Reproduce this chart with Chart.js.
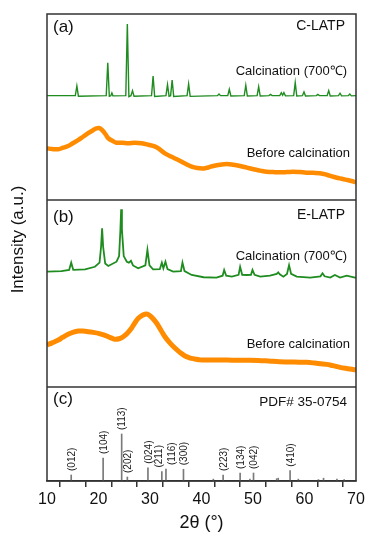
<!DOCTYPE html>
<html><head><meta charset="utf-8">
<script src="https://cdn.jsdelivr.net/npm/chart.js@4.4.0/dist/chart.umd.min.js"></script>
<style>html,body{margin:0;padding:0;background:#fff}</style>
</head><body>
<canvas id="c" width="389" height="541"></canvas>
<script>
// ---- Panel (a) C-LATP, calcined (700 C) ----
const aCalcX = [10,15.5,15.8,16.1,21.5,21.8,22.1,22.4,22.6,22.8,25.3,25.6,25.9,26.3,26.6,26.9,30.3,30.6,30.9,33.1,33.4,33.7,34.0,34.3,34.6,37.2,37.5,37.8,43.1,43.4,43.7,45.1,45.4,45.7,48.3,48.6,48.9,50.8,51.1,51.4,53.1,53.4,53.7,55.2,55.5,55.75,56.0,56.3,57.9,58.2,58.5,59.6,59.9,60.2,62.3,62.6,62.9,64.4,64.7,65.0,66.6,66.9,67.2,68.5,68.8,69.1,70];
const aCalcY = [56.1,56.1,61.3,55.8,56.1,73.8,55.8,56.1,57.5,56.0,56.1,94.6,55.6,56.1,58.8,55.8,56.1,66.7,55.7,56.1,62.0,55.8,56.1,64.5,55.7,56.1,62.4,55.7,56.1,57.0,56.1,56.1,59.5,55.9,56.1,61.7,55.9,56.1,60.9,55.9,56.1,56.8,56.1,56.1,57.7,56.3,57.7,56.0,56.1,63.1,55.9,56.1,58.1,55.9,56.1,56.8,56.1,56.1,58.8,55.9,56.1,57.4,56.0,56.1,57.0,56.0,56.1];
// ---- Panel (a) C-LATP, before calcination ----
const aRawX = [10,11,12.2,13,14.1,15,16.1,17,18,19,19.6,20.2,20.8,21.4,21.9,22.7,23.5,24.6,25.8,27,28.4,29.7,31,32,32.9,34.2,35.5,36.8,38.1,39.2,40.4,41.3,42.3,43.6,44.9,46.2,47.5,48.8,50.1,51.4,52.7,54,55.2,56.5,57.8,59.1,60.4,61.7,63,64.3,65.6,66.9,68.2,69.1,70];
const aRawY = [27.8,27.4,27.3,28.0,29.0,30.5,32.3,34.0,35.9,37.6,38.5,38.6,37.3,35.2,33.2,31.8,30.8,30.8,30.5,30.8,30.5,29.7,28.7,27.0,25.1,23.2,21.5,19.6,17.9,17.2,17.0,17.5,18.3,19.0,19.4,19.0,18.3,17.4,16.5,15.8,15.2,15.0,14.9,15.0,15.2,15.0,14.7,14.6,14.4,13.6,12.5,11.6,10.8,10.2,9.5];
// ---- Panel (b) E-LATP, calcined (700 C) ----
const bCalcX = [10,12.8,14.3,14.7,15.1,17.4,19.3,20.2,20.5,20.7,20.9,21.3,21.9,23.5,24.0,24.25,24.4,24.55,24.9,25.5,25.9,26.3,26.7,27.7,29.1,29.5,29.9,30.6,31.9,32.3,32.6,33.0,33.4,34.5,36.0,36.3,36.7,38.1,40.4,42.9,44.1,44.4,44.8,45.9,47.2,47.5,47.9,48.8,49.6,49.9,50.3,51.4,53.3,54.6,54.9,55.2,55.9,56.6,57.0,57.4,58.5,61.1,63.1,63.5,63.9,65.0,65.9,66.9,68.2,69.8,70];
const bCalcY = [61.7,62.0,62.6,66.5,62.6,62.9,64.3,66.5,75.0,84.9,75.0,66.0,64.7,67.0,70.0,84.0,95.0,84.0,70.0,67.0,66.5,67.5,65.0,63.5,65.0,73.3,65.0,62.9,63.0,66.5,63.5,67.0,63.0,61.7,62.0,66.5,62.0,59.9,58.7,58.5,59.5,62.6,59.5,59.0,60.0,64.3,60.0,59.9,60.0,62.6,60.0,59.0,59.5,60.5,61.3,60.3,59.0,60.5,65.2,60.5,59.0,58.5,59.2,60.8,59.2,58.5,59.9,58.5,59.5,58.5,58.5];
// ---- Panel (b) E-LATP, before calcination ----
const bRawX = [10,11,12.2,13,14.1,15,16.1,17,18,19,20,21,21.9,22.6,23.2,24,24.8,25.6,26.4,27,27.7,28.4,29,29.5,30,30.6,31.3,32.1,32.9,33.9,34.9,35.8,36.8,37.7,38.7,39.7,41,43,45,47,49,51,53,55.2,57,59,60.4,62,64.3,65.5,66.9,68.4,70];
const bRawY = [22.5,23.6,25.1,26.5,28.2,29.2,29.9,29.9,29.6,29.2,28.7,27.9,26.9,26.1,25.5,25.8,26.9,28.8,31.4,34.0,36.7,38.2,38.9,39.0,38.1,36.5,34.1,30.5,26.9,23.5,20.7,18.5,16.6,15.6,15.0,14.5,14.4,14.4,14.4,14.3,14.3,14.2,13.9,13.5,13.4,13.3,13.2,12.8,12.1,11.4,10.5,9.8,9.1];
// ---- Panel (c) PDF# 35-0754 reference pattern ----
const pdfPos = [14.7,20.9,24.5,25.6,29.6,32.3,33.1,36.5,42.3,44.2,47.5,49.4,50.1,54.6,54.9,57.2,58.8,62.7,63.7,66.3,67.7];
const pdfInt = [12.8,49,100,8.5,28,20,25.5,25,4,12.8,17,4,17,5,6,22,4,3,6,4,3];
const pdfHkl = ['(012)','(104)','(113)','(202)','(024)','(211)','(116)','(300)','','(223)','(134)','','(042)','','','(410)','','','','',''];
// ---- axis ----
const xMin = 10, xMax = 70, xStep = 5, xLabelStep = 10;

const FAM = "'Liberation Sans', Arial, Helvetica, sans-serif";
const pts = (xs, ys) => xs.map((x, i) => ({x, y: ys[i]}));

const deco = {
  id: 'deco',
  afterDraw(chart) {
    const ctx = chart.ctx, ca = chart.chartArea;
    const ya = chart.scales.ya, yb = chart.scales.yb, yc = chart.scales.yc, xs = chart.scales.x;
    ctx.save();
    ctx.strokeStyle = '#333'; ctx.lineWidth = 1.5;
    ctx.strokeRect(ca.left, ca.top, ca.right - ca.left, ca.bottom - ca.top);
    [ya, yb].forEach(s => { ctx.beginPath(); ctx.moveTo(ca.left, s.bottom); ctx.lineTo(ca.right, s.bottom); ctx.stroke(); });
    ctx.fillStyle = '#111';
    const txt = (t, x, y, size, align) => { ctx.font = size + 'px ' + FAM; ctx.textAlign = align; ctx.textBaseline = 'middle'; ctx.fillText(t, x, y); };
    // panel (a)
    txt('(a)', ca.left + 6, ya.top + 13, 17, 'left');
    txt('C-LATP', ca.right - 11, ya.top + 12, 14, 'right');
    txt('Calcination (700℃)', ca.right - 9, ya.top + 57, 13, 'right');
    txt('Before calcination', ca.right - 6, ya.top + 139, 13, 'right');
    // panel (b)
    txt('(b)', ca.left + 6, yb.top + 17, 17, 'left');
    txt('E-LATP', ca.right - 11, yb.top + 15, 14, 'right');
    txt('Calcination (700℃)', ca.right - 9, yb.top + 56, 13, 'right');
    txt('Before calcination', ca.right - 6, yb.top + 144, 13, 'right');
    // panel (c)
    txt('(c)', ca.left + 6, yc.top + 12, 17, 'left');
    txt('PDF# 35-0754', ca.right - 9, yc.top + 15, 13.5, 'right');
    // y title
    ctx.save();
    ctx.translate(18, (ca.top + ca.bottom) / 2 - 8);
    ctx.rotate(-Math.PI / 2);
    txt('Intensity (a.u.)', 0, 0, 17, 'center');
    ctx.restore();
    // hkl labels
    ctx.font = '10px ' + FAM;
    const labs = [];
    pdfPos.forEach((p, i) => {
      if (!pdfHkl[i]) return;
      const w = ctx.measureText(pdfHkl[i]).width;
      const bottom = yc.getPixelForValue(pdfInt[i]) - 4;
      labs.push({t: pdfHkl[i], x: xs.getPixelForValue(p) + 1, bottom, top: bottom - w});
    });
    const gap = 11;
    for (let i = 1; i < labs.length; i++) {
      const a = labs[i - 1], b = labs[i];
      const vOverlap = !(a.bottom < b.top || b.bottom < a.top);
      if (vOverlap && b.x - a.x < gap) { const m = (a.x + b.x) / 2; a.x = m - gap / 2 - 0.5; b.x = m + gap / 2 + 1.5; }
    }
    labs.forEach(l => {
      ctx.save(); ctx.translate(l.x, l.bottom); ctx.rotate(-Math.PI / 2);
      ctx.textAlign = 'left'; ctx.textBaseline = 'middle'; ctx.fillStyle = '#222';
      ctx.fillText(l.t, 0, 0); ctx.restore();
    });
    ctx.restore();
  }
};

new Chart(document.getElementById('c'), {
  type: 'line',
  data: {
    datasets: [
      {data: pts(aRawX, aRawY), yAxisID: 'ya', borderColor: '#ff8c00', borderWidth: 4.5, pointRadius: 0, tension: 0.4, fill: false},
      {data: pts(aCalcX, aCalcY), yAxisID: 'ya', borderColor: '#1f8c1f', borderWidth: 1.4, pointRadius: 0, tension: 0, fill: false},
      {data: pts(bRawX, bRawY), yAxisID: 'yb', borderColor: '#ff8c00', borderWidth: 5, pointRadius: 0, tension: 0.4, fill: false},
      {data: pts(bCalcX, bCalcY), yAxisID: 'yb', borderColor: '#1f8c1f', borderWidth: 1.8, pointRadius: 0, tension: 0, fill: false},
      {type: 'bar', data: pts(pdfPos, pdfInt), yAxisID: 'yc', backgroundColor: '#7a7a7a', barThickness: 1, borderWidth: 0}
    ]
  },
  options: {
    responsive: false, animation: false, devicePixelRatio: 1,
    layout: {padding: {left: 47, right: 33, top: 14, bottom: 0}},
    plugins: {legend: {display: false}, tooltip: {enabled: false}},
    scales: {
      x: {
        type: 'linear', min: xMin, max: xMax, offset: false,
        ticks: {stepSize: xStep, autoSkip: false, maxRotation: 0, padding: 3, color: '#111', font: {size: 16, family: FAM},
          callback: v => (v % xLabelStep === 0 ? String(v) : '')},
        grid: {drawOnChartArea: false, drawTicks: true, tickLength: 6, color: '#333', lineWidth: 1.5},
        border: {display: true, color: '#333', width: 1.5},
        title: {display: true, text: '2θ (°)', color: '#111', font: {size: 18, family: FAM}, padding: {top: 0, bottom: 7}},
        afterFit(s) { s.height = 60; }
      },
      yc: {type: 'linear', display: false, stack: 'p', stackWeight: 94, min: 0, max: 200},
      yb: {type: 'linear', display: false, stack: 'p', stackWeight: 187, min: 0, max: 100},
      ya: {type: 'linear', display: false, stack: 'p', stackWeight: 186, min: 0, max: 100}
    }
  },
  plugins: [deco]
});
</script>
</body></html>
